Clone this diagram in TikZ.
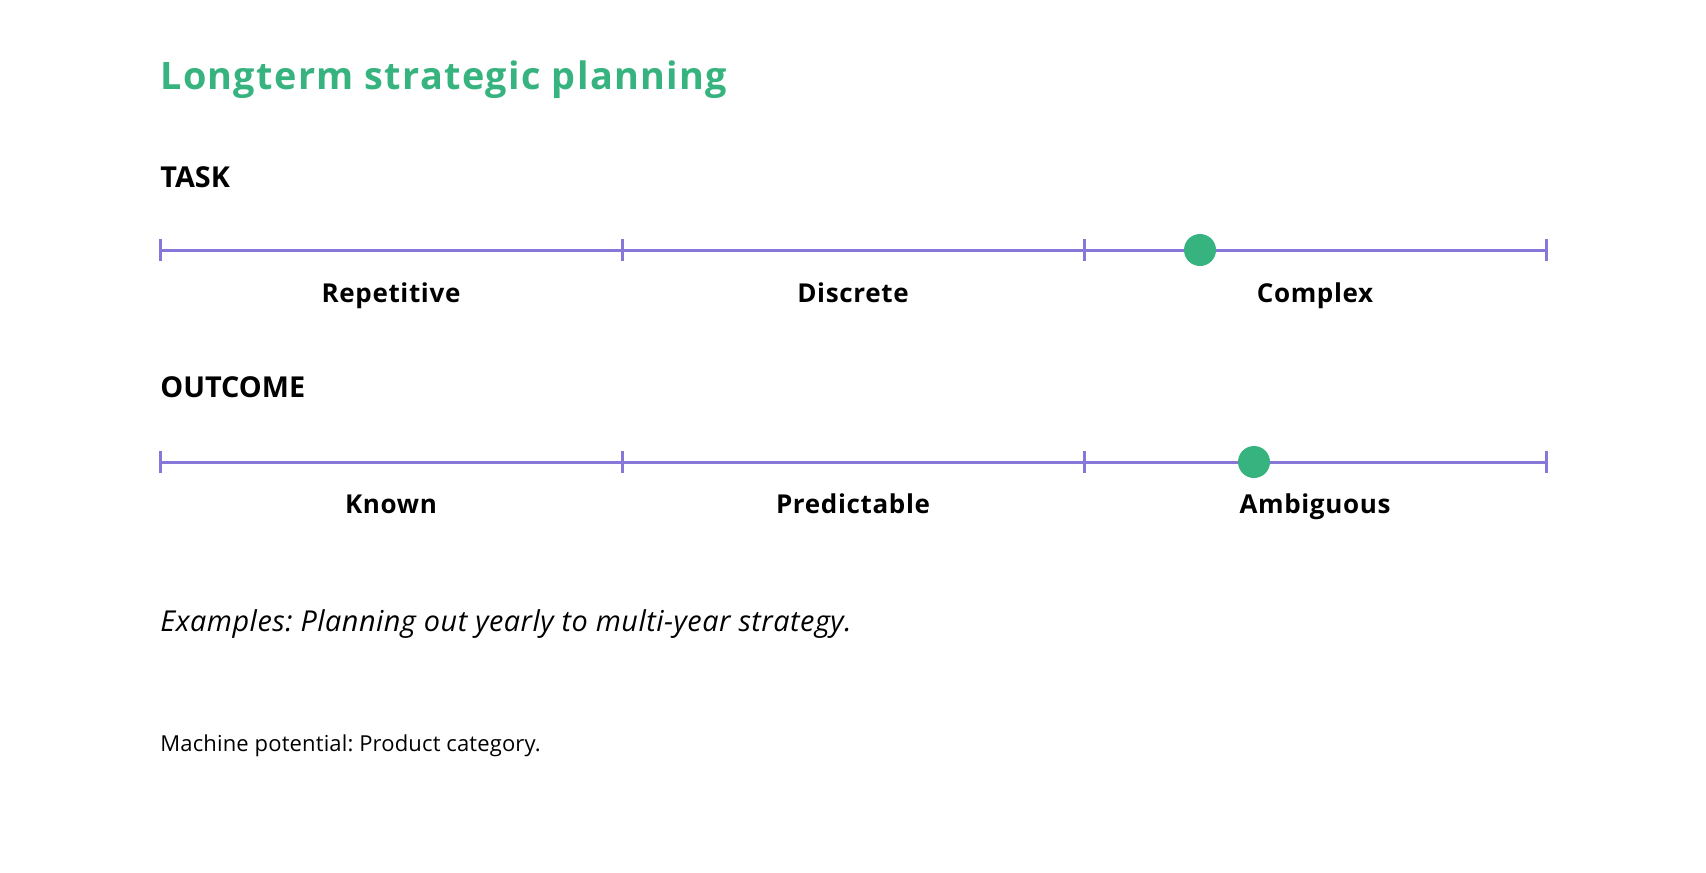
\documentclass[tikz,border=0pt]{standalone}
\usepackage{fontspec}
\setmainfont{Open Sans}
\definecolor{accgreen}{HTML}{36B37E}
\definecolor{accpurple}{HTML}{8777D9}
\begin{document}
\frenchspacing
\begin{tikzpicture}[x=0.5pt,y=-0.5pt,
  titletext/.style={anchor=base west,inner sep=0,text=accgreen,font=\fontsize{18.9}{22}\selectfont\bfseries\addfontfeature{LetterSpace=3.5}},
  headtext/.style={anchor=base west,inner sep=0,font=\fontsize{14.4}{17}\selectfont\bfseries},
  labeltext/.style={anchor=base,inner sep=0,font=\fontsize{13}{16}\selectfont\bfseries\addfontfeature{LetterSpace=2.5}},
  scaleline/.style={draw=accpurple,line width=1.5pt},
  tickmark/.style={draw=accpurple,line width=1.5pt},
  marker/.style={circle,fill=accgreen,minimum size=16pt,inner sep=0},
  exampletext/.style={anchor=base west,inner sep=0,font=\fontsize{14.4}{17}\selectfont\itshape\addfontfeature{LetterSpace=1.8}},
  notetext/.style={anchor=base west,inner sep=0,font=\fontsize{11}{13}\selectfont\addfontfeature{LetterSpace=0.7}}]
\useasboundingbox[fill=white] (0,0) rectangle (1706,872);
\node[titletext] (title) at (160,90) {Longterm strategic planning};
\node[headtext] (task) at (160,187) {TASK};
% row 1
\foreach \i/\x in {1/160,2/622,3/1084,4/1546} {
  \coordinate (a\i) at (\x,250);
  \draw[tickmark] (\x,239) -- (\x,261);
}
\draw[scaleline] (a1) -- (a4);
\node[labeltext] (rep) at (391,302) {Repetitive};
\node[labeltext] (dis) at (853,302) {Discrete};
\node[labeltext] (com) at (1315,302) {Complex};
\node[marker] (dot1) at (1200,250) {};
% row 2
\node[headtext] (outcome) at (160,397) {OUTCOME};
\foreach \i/\x in {1/160,2/622,3/1084,4/1546} {
  \coordinate (b\i) at (\x,462);
  \draw[tickmark] (\x,451) -- (\x,473);
}
\draw[scaleline] (b1) -- (b4);
\node[labeltext] (kno) at (391,513) {Known};
\node[labeltext] (pre) at (853,513) {Predictable};
\node[labeltext] (amb) at (1315,513) {Ambiguous};
\node[marker] (dot2) at (1254,462) {};
\node[exampletext] (ex) at (160,631) {Examples: Planning out yearly to multi-year strategy.};
\node[notetext] (mp) at (160,751) {Machine potential: Product category.};
\end{tikzpicture}
\end{document}
